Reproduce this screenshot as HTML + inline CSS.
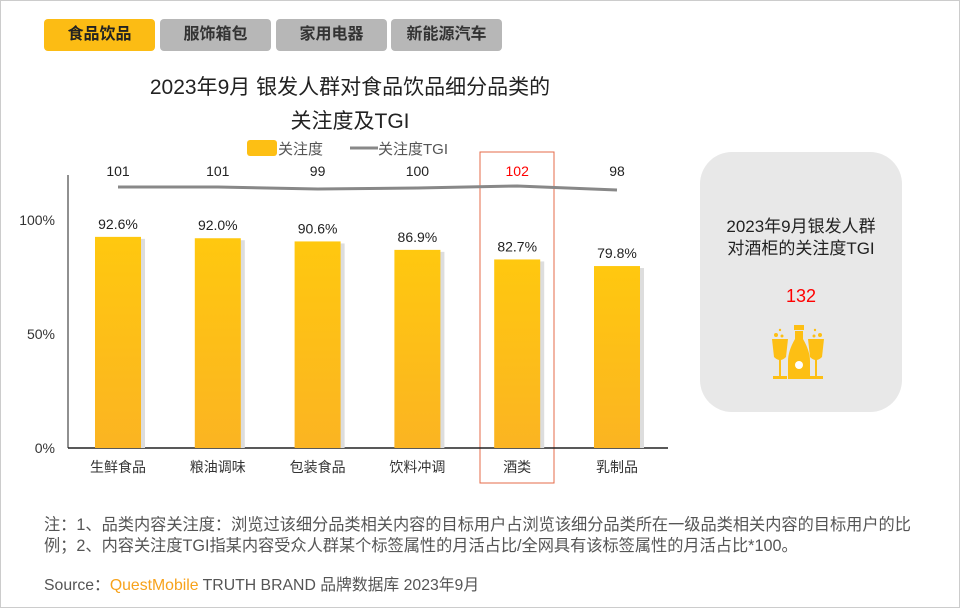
<!DOCTYPE html>
<html><head><meta charset="utf-8"><style>
body{margin:0;width:960px;height:608px;overflow:hidden;background:#fff;font-family:"Liberation Sans","Noto Sans CJK SC",sans-serif;}
.frame{position:absolute;left:0;top:0;width:958px;height:606px;border:1px solid #ccc;}
.tab{position:absolute;top:19px;height:32px;line-height:32px;text-align:center;border-radius:4px;font-size:16px;color:#333;background:#b7b7b7;font-weight:bold;}
.t{position:absolute;white-space:nowrap;}
</style></head><body>
<div class="frame"></div>
<div class="tab" style="left:44px;width:111px;background:#fcbc14;color:#222">食品饮品</div>
<div class="tab" style="left:160px;width:111px">服饰箱包</div>
<div class="tab" style="left:276px;width:111px">家用电器</div>
<div class="tab" style="left:391px;width:111px">新能源汽车</div>
<div class="t" style="left:110px;width:480px;top:71px;text-align:center;font-size:21px;line-height:34px;color:#222">2023年9月 银发人群对食品饮品细分品类的<br>关注度及TGI</div>
<svg id="chart" width="960" height="608" style="position:absolute;left:0;top:0">
<g font-family="Liberation Sans, Noto Sans CJK SC, sans-serif" font-size="15" fill="#555">
<rect x="247" y="140" width="30" height="16" rx="3" fill="#fdbf14"></rect>
<text x="278" y="154">关注度</text>
<line x1="350" y1="148" x2="378" y2="148" stroke="#888" stroke-width="3"></line>
<text x="378" y="154">关注度TGI</text>
</g>
<rect x="480" y="152" width="74" height="331" fill="none" stroke="#e46b4a" stroke-width="1"></rect>
</svg>
<div class="t" style="left:700px;top:152px;width:202px;height:260px;background:#e8e8e8;border-radius:32px;"></div>
<div class="t" style="left:700px;width:202px;top:216px;text-align:center;font-size:17px;line-height:22px;color:#222">2023年9月银发人群<br>对酒柜的关注度TGI</div>
<div class="t" style="left:700px;width:202px;top:286px;text-align:center;font-size:18px;color:#f00">132</div>
<svg class="t" style="left:770px;top:325px" width="62" height="58">
<g fill="#fdbf14">
<circle cx="6" cy="10" r="2"/><circle cx="10" cy="5" r="1.2"/><circle cx="12" cy="11" r="1.5"/>
<circle cx="50" cy="10" r="2"/><circle cx="45" cy="5" r="1.2"/><circle cx="44" cy="11" r="1.5"/>
<path d="M2 14 H18 L16 32 Q10 38 4 32 Z"/><rect x="9" y="34" width="2" height="18"/><rect x="3" y="51" width="14" height="3"/>
<path d="M38 14 H54 L52 32 Q46 38 40 32 Z"/><rect x="45" y="34" width="2" height="18"/><rect x="39" y="51" width="14" height="3"/>
<rect x="24" y="0" width="10" height="5"/><path d="M25 6 H33 V14 Q40 26 40 36 V54 H18 V36 Q18 26 25 14 Z"/>
</g>
<circle cx="29" cy="40" r="4" fill="#fff"/>
</svg>
<div class="t" style="left:44px;top:515px;font-size:16.2px;line-height:21px;color:#555">注：1、品类内容关注度：浏览过该细分品类相关内容的目标用户占浏览该细分品类所在一级品类相关内容的目标用户的比<br>例；2、内容关注度TGI指某内容受众人群某个标签属性的月活占比/全网具有该标签属性的月活占比*100。</div>
<div class="t" style="left:44px;top:572px;font-size:15.8px;color:#555">Source：<span style="color:#f7a21b">QuestMobile</span> TRUTH BRAND 品牌数据库 2023年9月</div>
<script>
const categories=["生鲜食品","粮油调味","包装食品","饮料冲调","酒类","乳制品"];
const attention=[92.6,92.0,90.6,86.9,82.7,79.8];
const tgi=[101,101,99,100,102,98];
const yTicks=[0,50,100];
const svg=document.getElementById('chart');
const NS='http://www.w3.org/2000/svg';
const x0=68,base=448,pxPerPct=2.28,step=99.8,bw=46;
const xc=i=>118+i*step;
const y=v=>base-v*pxPerPct;
const ty=v=>188-(v-100)*1.0;
function mk(t,a){const e=document.createElementNS(NS,t);for(const k in a)e.setAttribute(k,a[k]);svg.appendChild(e);return e;}
const defs=mk('defs',{});
defs.innerHTML='<linearGradient id="g" x1="0" y1="0" x2="0" y2="1"><stop offset="0" stop-color="#ffc80f"/><stop offset="1" stop-color="#fbb422"/></linearGradient>';
const ax=mk('line',{x1:x0,y1:175,x2:x0,y2:base,stroke:'#222','stroke-width':1});


const bx=mk('line',{x1:x0,y1:base,x2:668,y2:base,stroke:'#222','stroke-width':1.5});


yTicks.forEach(v=>{const t=mk('text',{x:55,y:y(v)+5,'font-size':14,fill:'#333','text-anchor':'end'});t.textContent=v+'%';

});
categories.forEach((c,i)=>{
const sh=mk('rect',{x:xc(i)-bw/2+4,y:y(attention[i])+2,width:bw,height:base-y(attention[i])-2,fill:'#ddd'});


const r=mk('rect',{x:xc(i)-bw/2,y:y(attention[i]),width:bw,height:base-y(attention[i]),fill:'url(#g)'});


const l=mk('text',{x:xc(i),y:y(attention[i])-8,'font-size':14,fill:'#222','text-anchor':'middle'});l.textContent=attention[i].toFixed(1)+'%';


const cl=mk('text',{x:xc(i),y:472,'font-size':14,fill:'#333','text-anchor':'middle'});cl.textContent=c;


const tl=mk('text',{x:xc(i),y:176,'font-size':14,fill:i===4?'#f00':'#222','text-anchor':'middle'});tl.textContent=tgi[i];


});
let d='';tgi.forEach((v,i)=>{d+=(i?' L':'M')+xc(i)+' '+ty(v);});
const p=mk('path',{d:d,fill:'none',stroke:'#888','stroke-width':3,'stroke-linejoin':'round'});


</script>
</body></html>
